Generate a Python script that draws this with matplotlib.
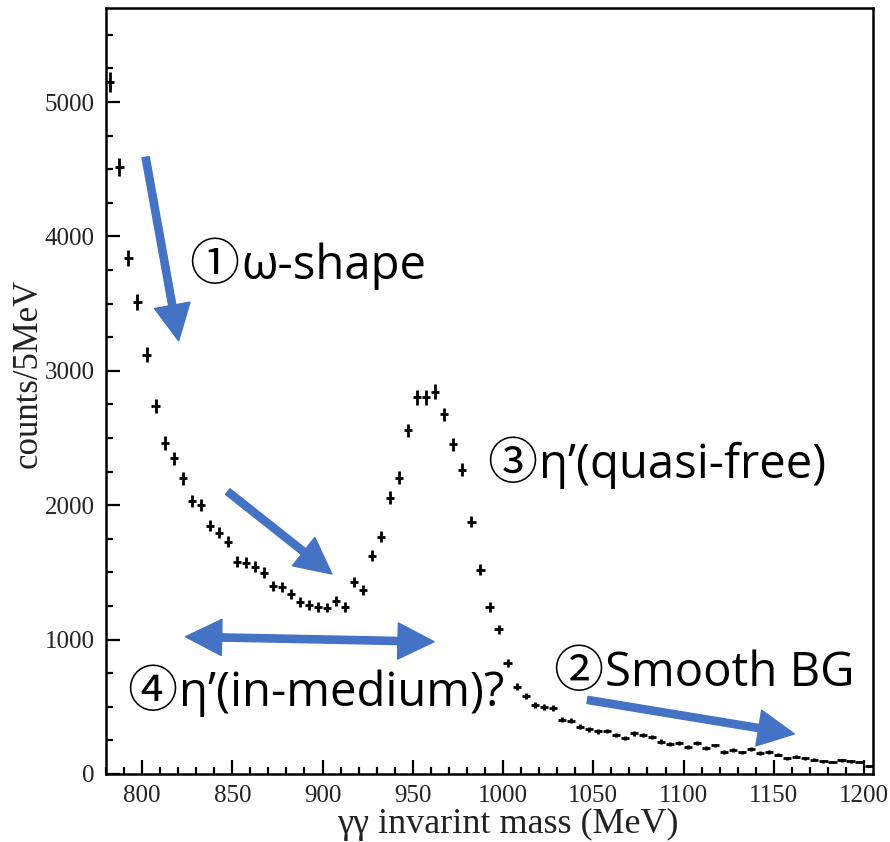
import numpy as np
import matplotlib
matplotlib.use("Agg")
import matplotlib.pyplot as plt
from matplotlib.ticker import MultipleLocator

# gamma-gamma invariant mass spectrum, 5 MeV bins from 780 to 1205 MeV
bin_lo = 780.0
bin_w = 5.0
counts = [
    5150, 4520, 3840, 3510, 3120, 2740, 2462, 2350, 2200, 2030,
    2000, 1848, 1796, 1729, 1580, 1572, 1543, 1498, 1400, 1393,
    1341, 1282, 1259, 1244, 1237, 1289, 1244, 1427, 1371, 1624,
    1766, 2057, 2206, 2556, 2802, 2802, 2846, 2675, 2452, 2265,
    1878, 1520, 1244, 1078, 824, 648, 581, 514, 499, 492,
    405, 396, 352, 333, 318, 320, 291, 266, 303, 291,
    275, 241, 222, 231, 201, 233, 191, 212, 162, 180,
    160, 184, 156, 162, 142, 117, 127, 117, 107, 94,
    88, 101, 94, 88, 60,
]

counts = np.array(counts, dtype=float)
centers = bin_lo + bin_w * (np.arange(len(counts)) + 0.5)

# annotation text: (number mark, label, x, y) in data units
labels = [
    ("①", "ω-shape", 826.3, 3780),
    ("③", "η’(quasi-free)", 991.3, 2300),
    ("②", "Smooth BG", 1027.9, 750),
    ("④", "η’(in-medium)?", 791.8, 600),
]
# arrows: (tail, tip)
arrows = [
    ((802.0, 4590), (820.3, 3223)),
    ((847.5, 2101), (905.2, 1488)),
    ((893.0, 1003), (824.1, 1021)),
    ((893.0, 1003), (961.8, 984)),
    ((1046.8, 551), (1161.4, 298)),
]

blue = "#4472C4"
text_font = ["Open Sans", "Noto Sans CJK JP", "DejaVu Sans"]
mark_font = ["Noto Sans CJK JP", "DejaVu Sans"]
serif = "Liberation Serif"

fig = plt.figure(figsize=(8.9, 8.42), dpi=100)
ax = fig.add_axes([0.119, 0.0808, 0.862, 0.9097])

ax.errorbar(centers, counts, xerr=bin_w / 2 * 0.9, yerr=np.sqrt(counts),
            fmt="none", ecolor="black", elinewidth=2.0, capsize=0)

ax.set_xlim(780, 1205)
ax.set_ylim(0, 5700)
ax.xaxis.set_major_locator(MultipleLocator(50))
ax.xaxis.set_minor_locator(MultipleLocator(10))
ax.yaxis.set_major_locator(MultipleLocator(1000))
ax.yaxis.set_minor_locator(MultipleLocator(250))
ax.tick_params(which="both", direction="in", width=1.6, top=False, right=False)
ax.tick_params(which="major", length=10, pad=8, labelsize=18)
ax.tick_params(which="minor", length=5)
for lab in ax.get_xticklabels() + ax.get_yticklabels():
    lab.set_fontfamily(serif)
    lab.set_color("#222222")
for sp in ax.spines.values():
    sp.set_linewidth(1.8)

ax.set_xlabel("γγ invarint mass (MeV)", fontsize=26, family=serif, color="#222222")
ax.set_ylabel("counts/5MeV", fontsize=25, family=serif, color="#222222")
ax.xaxis.set_label_coords(0.524, -0.044)
ax.yaxis.set_label_coords(-0.08, 0.523)

for (tail, tip) in arrows:
    ax.annotate("", xy=tip, xytext=tail,
                arrowprops=dict(arrowstyle="simple,head_length=1.0,head_width=1.0,tail_width=0.2",
                                mutation_scale=26, color=blue, shrinkA=0, shrinkB=0))

# circled number first, then the label text right after it
for mark, txt, x, y in labels:
    t = ax.text(x, y, mark, fontsize=36, family=mark_font, ha="left", va="center",
                color="black")
    ax.annotate(txt, xy=(1, 0.5), xycoords=t, xytext=(1, 0), textcoords="offset points",
                fontsize=34, family=text_font, ha="left", va="center", color="black")

fig.savefig("out.png", dpi=100)
